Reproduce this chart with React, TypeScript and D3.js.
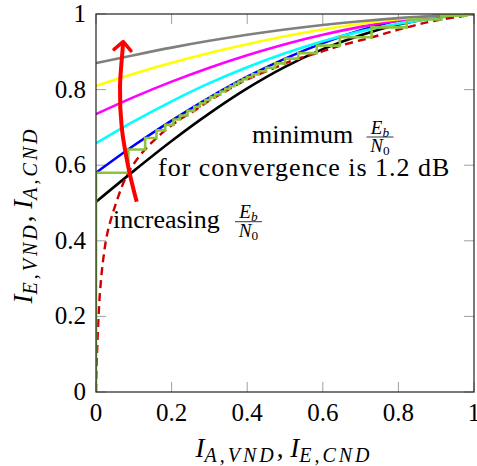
import React from 'react';
import * as d3 from 'd3';

const W = 477;
const H = 466;

const xTicks = [0, 0.2, 0.4, 0.6, 0.8, 1];
const yTicks = [0, 0.2, 0.4, 0.6, 0.8, 1];
const tickLabels = ['0', '0.2', '0.4', '0.6', '0.8', '1'];

// VND transfer curves (one per Eb/N0)
const curveX = [0, 0.1, 0.2, 0.3, 0.4, 0.5, 0.6, 0.7, 0.8, 0.9, 1];
const blackY = [0.503, 0.585, 0.664, 0.737, 0.803, 0.86, 0.907, 0.944, 0.972, 0.99, 1];
const blueY = [0.58, 0.652, 0.718, 0.779, 0.834, 0.882, 0.923, 0.957, 0.983, 0.995, 1];
const cyanY = [0.658, 0.716, 0.769, 0.817, 0.859, 0.896, 0.928, 0.954, 0.974, 0.989, 1];
const magentaY = [0.735, 0.78, 0.821, 0.858, 0.891, 0.92, 0.945, 0.966, 0.982, 0.993, 1];
const yellowY = [0.81, 0.842, 0.871, 0.897, 0.92, 0.941, 0.959, 0.974, 0.986, 0.995, 1];
const grayY = [0.87, 0.891, 0.911, 0.929, 0.945, 0.959, 0.971, 0.981, 0.989, 0.995, 1];

// inverted CND curve (dashed)
const cndX = [0, 0.002, 0.005, 0.011, 0.019, 0.03, 0.045, 0.06, 0.072, 0.0855, 0.13, 0.16, 0.183, 0.222, 0.26, 0.302, 0.342, 0.388, 0.43, 0.474, 0.535, 0.584, 0.645, 0.729, 0.822, 0.914, 0.98, 1];
const cndY = [0, 0.08, 0.16, 0.27, 0.35, 0.42, 0.475, 0.52, 0.552, 0.58, 0.642, 0.672, 0.692, 0.721, 0.744, 0.772, 0.795, 0.821, 0.84, 0.858, 0.882, 0.896, 0.916, 0.938, 0.9645, 0.9856, 0.996, 1];

// decoding trajectory (staircase)
const stepStartY = 0.58;
const stepX = [0.0855, 0.13, 0.16, 0.183, 0.205, 0.222, 0.242, 0.26, 0.275, 0.289, 0.302, 0.315, 0.329, 0.342, 0.354, 0.366, 0.377, 0.388, 0.399, 0.413, 0.43, 0.45, 0.474, 0.5, 0.535, 0.584, 0.645, 0.729, 0.822, 0.914, 0.98];
const stepY = [0.6416, 0.672, 0.692, 0.7068, 0.721, 0.7314, 0.7436, 0.7546, 0.7638, 0.7723, 0.7801, 0.7873, 0.795, 0.8021, 0.8087, 0.8153, 0.8214, 0.8274, 0.8335, 0.8402, 0.8484, 0.858, 0.8695, 0.882, 0.8964, 0.9164, 0.9383, 0.9645, 0.9856, 0.9957, 0.9995];

// "increasing Eb/N0" arrow path
const arrowX = [0.1077, 0.0855, 0.068, 0.0635, 0.0696, 0.072];
const arrowY = [0.503, 0.595, 0.701, 0.807, 0.897, 0.927];

const series = [
  { name: 'black', color: '#000000', values: blackY },
  { name: 'blue', color: '#0000ff', values: blueY },
  { name: 'cyan', color: '#00ffff', values: cyanY },
  { name: 'magenta', color: '#ff00ff', values: magentaY },
  { name: 'yellow', color: '#ffff00', values: yellowY },
  { name: 'gray', color: '#808080', values: grayY },
];

const FONT = "'Liberation Serif', 'Times New Roman', serif";

export default function App() {
  const x = d3.scaleLinear().domain([0, 1]).range([96, 474]);
  const y = d3.scaleLinear().domain([0, 1]).range([392, 14]);

  const line = d3
    .line<[number, number]>()
    .x((d) => x(d[0]))
    .y((d) => y(d[1]))
    .curve(d3.curveMonotoneX);

  const cndPts: [number, number][] = cndX.map((v, i) => [v, cndY[i]]);
  const cndLine = d3
    .line<[number, number]>()
    .x((d) => x(d[0]))
    .y((d) => y(d[1]))
    .curve(d3.curveMonotoneY);

  const stairs: [number, number][] = [[0, 0], [0, stepStartY]];
  let prev = stepStartY;
  stepX.forEach((sx, i) => {
    stairs.push([sx, prev]);
    stairs.push([sx, stepY[i]]);
    prev = stepY[i];
  });
  stairs.push([1, prev]);
  const stairLine = d3
    .line<[number, number]>()
    .x((d) => x(d[0]))
    .y((d) => y(d[1]));

  const arrowPts: [number, number][] = arrowX.map((v, i) => [v, arrowY[i]]);
  const arrowLine = d3
    .line<[number, number]>()
    .x((d) => x(d[0]))
    .y((d) => y(d[1]))
    .curve(d3.curveCatmullRom);

  const tickLen = 10;
  const tickColor = '#a0a0a0';

  const frac = (cx: number, barY: number, size: number) => (
    <g style={{ fontFamily: FONT }}>
      <text x={cx} y={barY - 3.5} textAnchor="middle" fontSize={size}>
        <tspan fontStyle="italic">E</tspan>
        <tspan fontStyle="italic" fontSize={size * 0.7} dy={3}>b</tspan>
      </text>
      <line x1={cx - 13.5} x2={cx + 13.5} y1={barY} y2={barY} stroke="#000" strokeWidth={0.8} />
      <text x={cx} y={barY + 15} textAnchor="middle" fontSize={size}>
        <tspan fontStyle="italic">N</tspan>
        <tspan fontSize={size * 0.7} dy={3}>0</tspan>
      </text>
    </g>
  );

  return (
    <svg
      width={W}
      height={H}
      style={{ position: 'absolute', left: 0, top: 0, background: '#fff', fontFamily: FONT }}
    >
      <defs>
        <marker
          id="chev"
          markerUnits="userSpaceOnUse"
          viewBox="-12 -12 24 24"
          markerWidth={24}
          markerHeight={24}
          refX={0}
          refY={0}
          orient="auto"
        >
          <path d="M -8.5 -8.5 L 0 0 L -8.5 8.5" fill="none" stroke="#ff0000" strokeWidth={3.5} strokeLinecap="round" strokeLinejoin="round" />
        </marker>
        <clipPath id="plot">
          <rect x={96} y={14} width={378} height={378} />
        </clipPath>
      </defs>

      {/* ticks */}
      {xTicks.map((t) => (
        <g key={'xt' + t}>
          <line x1={x(t)} x2={x(t)} y1={y(0)} y2={y(0) - tickLen} stroke={tickColor} strokeWidth={1} />
          <line x1={x(t)} x2={x(t)} y1={y(1)} y2={y(1) + tickLen} stroke={tickColor} strokeWidth={1} />
        </g>
      ))}
      {yTicks.map((t) => (
        <g key={'yt' + t}>
          <line x1={x(0)} x2={x(0) + tickLen} y1={y(t)} y2={y(t)} stroke={tickColor} strokeWidth={1} />
          <line x1={x(1)} x2={x(1) - tickLen} y1={y(t)} y2={y(t)} stroke={tickColor} strokeWidth={1} />
        </g>
      ))}

      <g clipPath="url(#plot)">
        {series.map((s) => (
          <path
            key={s.name}
            d={line(curveX.map((v, i) => [v, s.values[i]] as [number, number])) || ''}
            fill="none"
            stroke={s.color}
            strokeWidth={2.6}
          />
        ))}
        <path d={cndLine(cndPts) || ''} fill="none" stroke="#cc0000" strokeWidth={2.4} strokeDasharray="8 5" />
        <path d={stairLine(stairs) || ''} fill="none" stroke="#8cc43c" strokeWidth={2.6} />
      </g>

      {/* frame */}
      <rect x={96} y={14} width={378} height={378} fill="none" stroke="#222" strokeWidth={1.2} />

      {/* arrow */}
      <path d={arrowLine(arrowPts) || ''} fill="none" stroke="#ff0000" strokeWidth={4} markerEnd="url(#chev)" />

      {/* tick labels */}
      {xTicks.map((t, i) => (
        <text key={'xl' + t} x={x(t)} y={421} textAnchor="middle" fontSize={25}>
          {tickLabels[i]}
        </text>
      ))}
      {yTicks.map((t, i) => (
        <text key={'yl' + t} x={86} y={y(t) + 8} textAnchor="end" fontSize={25}>
          {tickLabels[i]}
        </text>
      ))}

      {/* axis titles */}
      <text x={284} y={457} textAnchor="middle" fontSize={27}>
        <tspan fontStyle="italic">I</tspan>
        <tspan fontStyle="italic" fontSize={20} dy={5} letterSpacing={3}>A,VND</tspan>
        <tspan dy={-5}>, </tspan>
        <tspan fontStyle="italic">I</tspan>
        <tspan fontStyle="italic" fontSize={20} dy={5} letterSpacing={3}>E,CND</tspan>
      </text>
      <text transform="translate(32,215) rotate(-90)" x={0} y={0} textAnchor="middle" fontSize={27}>
        <tspan fontStyle="italic">I</tspan>
        <tspan fontStyle="italic" fontSize={20} dy={5} letterSpacing={3}>E,VND</tspan>
        <tspan dy={-5}>, </tspan>
        <tspan fontStyle="italic">I</tspan>
        <tspan fontStyle="italic" fontSize={20} dy={5} letterSpacing={3}>A,CND</tspan>
      </text>

      {/* annotations */}
      <text x={252} y={143} fontSize={26}>minimum</text>
      {frac(380, 137, 19)}
      <text x={158} y={176} fontSize={26} letterSpacing={1}>for convergence is 1.2 dB</text>
      <text x={113} y={228} fontSize={26}>increasing</text>
      {frac(248.5, 221.7, 19)}
    </svg>
  );
}
